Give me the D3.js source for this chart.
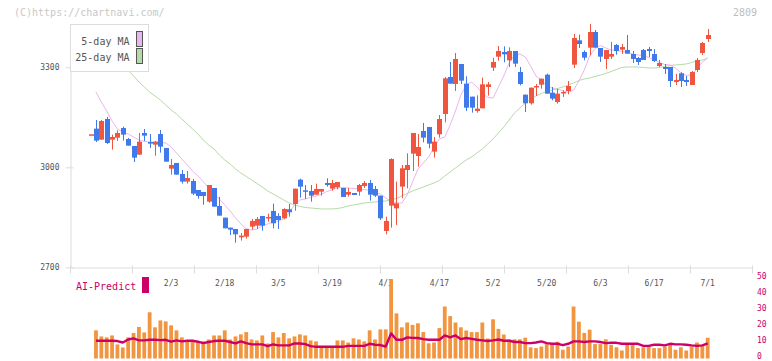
<!DOCTYPE html>
<html><head><meta charset="utf-8">
<script src="https://cdn.jsdelivr.net/npm/d3@7"></script>
<style>
body{margin:0;background:#fff}
svg{display:block}
text{font-family:"DejaVu Sans Mono","Liberation Mono",monospace}
</style>
</head><body>
<svg id="chart" width="772" height="361"></svg>
<script>
const dates = ["1/10","1/14","1/15","1/16","1/17","1/20","1/21","1/22","1/23","1/24","1/27","1/28","1/29","1/30","1/31",
"2/3","2/4","2/5","2/6","2/7","2/10","2/12","2/13","2/14","2/17","2/18","2/19","2/20","2/21","2/25","2/26","2/27","2/28",
"3/3","3/4","3/5","3/6","3/7","3/10","3/11","3/12","3/13","3/14","3/17","3/18","3/19","3/21","3/24","3/25","3/26","3/27","3/28","3/31",
"4/1","4/2","4/3","4/4","4/7","4/8","4/9","4/10","4/11","4/14","4/15","4/16","4/17","4/18","4/21","4/22","4/23","4/24","4/25","4/28","4/30",
"5/1","5/2","5/7","5/8","5/9","5/12","5/13","5/14","5/15","5/16","5/19","5/20","5/21","5/22","5/23","5/26","5/27","5/28","5/29","5/30",
"6/2","6/3","6/4","6/5","6/6","6/9","6/10","6/11","6/12","6/13","6/16","6/17","6/18","6/19","6/20","6/23","6/24","6/25","6/26","6/27","6/30","7/1"];

const openP = [3099,3116,3083,3145,3083,3089,3118,3085,3064,3038,3103,3076,3068,3100,3058,2996,3013,2980,2957,2959,2932,2926,2897,2938,2884,2849,2819,2815,2790,2792,2822,2825,2854,2851,2869,2854,2847,2874,2890,2963,2931,2929,2918,2927,2953,2936,2940,2938,2918,2923,2927,2944,2953,2935,2915,2809,2885,2877,2942,2992,3041,3034,3109,3121,3047,3099,3160,3271,3250,3310,3251,3212,3169,3177,3241,3299,3332,3346,3321,3349,3286,3218,3192,3240,3248,3278,3224,3196,3222,3229,3308,3381,3346,3359,3406,3358,3325,3332,3367,3353,3352,3340,3328,3352,3355,3340,3304,3301,3301,3256,3282,3262,3247,3292,3343,3385];
const highP = [3099,3142,3142,3151,3098,3111,3122,3088,3064,3103,3115,3100,3079,3112,3058,3025,3013,2992,2989,2965,2932,2926,2947,2938,2911,2849,2819,2815,2803,2815,2845,2851,2854,2861,2891,2862,2877,2890,2936,2966,2947,2947,2951,2935,2967,2962,2956,2938,2938,2923,2950,2959,2962,2944,2915,2852,3027,2957,3007,3042,3103,3100,3133,3121,3091,3157,3271,3316,3343,3310,3273,3212,3216,3269,3256,3329,3364,3363,3360,3349,3301,3218,3239,3250,3266,3281,3241,3236,3231,3259,3400,3398,3351,3430,3412,3358,3352,3376,3370,3370,3397,3349,3331,3355,3361,3355,3322,3310,3301,3280,3285,3274,3289,3328,3376,3415];
const lowP = [3099,3076,3083,3070,3053,3079,3080,3065,3016,3038,3079,3058,3035,3044,3017,2978,2978,2951,2951,2917,2906,2888,2894,2882,2855,2817,2797,2774,2780,2786,2813,2815,2810,2837,2817,2815,2844,2852,2870,2909,2905,2897,2918,2915,2942,2930,2934,2911,2912,2917,2915,2938,2900,2911,2842,2799,2819,2827,2907,2937,2989,3002,3075,3057,3029,3089,3135,3251,3229,3250,3169,3164,3164,3177,3215,3289,3320,3315,3301,3301,3246,3166,3188,3214,3236,3221,3201,3191,3211,3219,3298,3358,3321,3336,3359,3316,3295,3325,3338,3340,3341,3313,3307,3322,3331,3316,3300,3280,3241,3247,3241,3244,3247,3286,3337,3376];
const closeP = [3099,3080,3139,3073,3091,3103,3098,3065,3029,3077,3095,3071,3077,3062,3017,3007,2978,2957,2968,2921,2914,2914,2947,2882,2855,2817,2813,2799,2795,2815,2839,2845,2825,2851,2832,2842,2875,2865,2936,2942,2928,2915,2935,2935,2947,2953,2956,2911,2926,2917,2947,2953,2918,2915,2847,2839,3025,2892,2997,3007,3103,3061,3089,3071,3077,3145,3267,3251,3325,3260,3179,3179,3176,3249,3249,3316,3349,3339,3349,3311,3250,3192,3239,3244,3266,3221,3206,3221,3226,3244,3388,3370,3329,3406,3359,3332,3352,3340,3349,3361,3341,3325,3316,3322,3349,3319,3313,3295,3259,3262,3259,3256,3286,3322,3373,3397];

const ma5 = [null,3226,3196,3169,3139,3115,3106,3100,3091,3082,3077.5,3076,3075,3074.5,3073,3061,3043,3025,3007,2989,2974,2957,2938,2920,2905,2887,2869,2848,2830,2816,2812,2815,2824,2830,2836,2839,2845,2863,2887,2902,2905,2909.5,2914,2918.5,2927.5,2932,2938,2939.5,2938,2936.5,2935,2933.5,2930.5,2923,2920,2908,2899,2893,2893,2917,2956,2995,3013,3031,3061,3085,3091,3127,3169,3217,3247,3256,3241,3223,3209.5,3208,3241,3274,3313,3337,3340,3331,3304,3274,3262,3244,3238,3233.5,3230.5,3224.5,3232,3259,3292,3334,3356,3365.5,3358,3352,3350.5,3348,3344.5,3340,3337,3335.5,3329.5,3323.5,3314.5,3308.5,3307,3298,3283,3276,3277,3295,3316,3328];
const ma25 = [null,3382,3367,3352,3337,3322,3307,3292,3274,3256,3241,3226,3214,3202,3187,3172,3160,3145,3130,3115,3100,3082,3067,3055,3037,3022,3010,2995,2983,2972.5,2962,2951.5,2941,2929,2920,2911,2902,2893,2887,2882.5,2879.5,2878,2876.5,2875,2875,2875,2876.5,2879.5,2884,2887,2890,2893,2894.5,2896,2897.5,2899,2902,2906.5,2914,2921.5,2929,2935,2941,2947,2953,2960.5,2974,2986,2998,3010,3022,3031,3043,3055,3070,3085,3103,3121,3142,3163,3178,3193,3203.5,3214,3221.5,3227.5,3232,3236.5,3241,3247,3253,3260.5,3265,3268,3272.5,3277,3281.5,3287.5,3293.5,3299.5,3301,3301,3301,3299.5,3298,3298,3299.5,3302.5,3305.5,3307,3308.5,3310,3314.5,3319,3322,3328];

const volume = [null,17.6,13.8,13.2,14.4,8.8,6.9,13.2,15.9,19.7,16.3,28.9,19.5,23.8,23.2,20.7,17.6,13.2,11.3,11.3,10.9,10.7,11.9,14.4,14.4,17.6,11.9,13.8,15.1,16.5,11.9,11.3,14.4,9.4,16.5,13.2,15.9,12.6,13.8,15.1,14.4,11.3,10.7,7.7,7.7,7.7,11.3,11.3,10.0,12.6,11.9,10.7,17.6,11.9,18.2,18.2,49.6,28.2,
19.5,22.5,21,22,16.5,9.5,10,19,32.5,26.5,22.5,19.5,17.5,16.5,16.5,22.5,12.5,24.5,18.5,15,12,12,12,13,7,6.5,7.5,9,9,10.5,5.5,7.5,32.5,23,16,18,9,9,12,8.5,7,5,8.5,8.5,6.5,7,7.5,6.5,6.5,7.5,9.5,5.5,7,5,7.5,10,8.5,13];
const aiPredict = [null,11.1,11.1,11.1,11.1,10.9,10.0,11.9,12.6,11.3,11.3,11.7,11.7,11.5,11.7,10.5,11.3,10.7,11.1,11.1,10.5,9.6,10.3,10.9,11.1,11.1,10.3,9.4,10.7,9.6,8.8,8.8,8.8,7.7,8.8,8.2,8.2,8.2,9.4,9.4,9.0,7.7,7.3,7.3,7.3,7.3,7.3,7.3,7.9,7.9,7.9,7.9,9.2,8.6,8.4,7.5,15.7,11.7,
11.7,13.2,12.9,12.8,12.1,11.7,11.7,11.7,14.4,13.2,14.4,12.1,12.8,12.3,11.7,11.3,10.9,11.3,11.9,11.1,11.1,10.3,10.3,9.6,9.6,10.0,10.7,9.6,9.2,9.2,8.4,9.2,10.7,10.7,10.3,10.7,10.7,10.3,9.6,9.8,9.8,9.2,9.2,9.2,9.2,7.9,7.9,8.6,8.6,8.2,9.2,8.8,8.8,8.6,8.2,7.9,8.2,9.4];

const dateTickLabels = ["2/3","2/18","3/5","3/19","4/3","4/17","5/2","5/20","6/3","6/17","7/1"];
const priceTicks = [2700, 3000, 3300];
const volumeTicks = [0, 10, 20, 30, 40, 50];
const legendLabels = ["5-day MA", "25-day MA"];
const codeLabel = "2809";
const creditLabel = "(C)https://chartnavi.com/";
const aiLabel = "AI-Predict";

const UP = "#f0553f", DOWN = "#4079ea", GRID = "#dcdcdc", CRIMSON = "#cc0066";
const MA5C = "#eab6ee", MA25C = "#b5dba6", VOLC = "#f29540";

const svg = d3.select("#chart");
const n = dates.length;
const idx = d3.range(n);

const x = d3.scaleLinear().domain([0, n - 1]).range([90.6, 707.7]);
const y = d3.scaleLinear().domain([2700, 3430]).range([267.3, 24]);
const frame = d3.scaleLinear().domain([0, 11]).range([70, 752]);
const v = d3.scaleLinear().domain([0, 50]).range([358.5, 278.5]);

// credits
svg.append("text").attr("x", 14).attr("y", 16).attr("font-size", 10).attr("fill", "#c8c8c8").text(creditLabel);
svg.append("text").attr("x", 757).attr("y", 16).attr("font-size", 10).attr("fill", "#bdbdbd").attr("text-anchor", "end").text(codeLabel);

// y axis
const ya = svg.append("g").attr("transform", "translate(70.5,0)")
  .call(d3.axisLeft(y).tickValues(priceTicks).tickSizeInner(5).tickSizeOuter(0).tickPadding(6).tickFormat(d3.format("d")));
ya.select(".domain").attr("stroke", GRID);
ya.selectAll(".tick line").attr("stroke", GRID).attr("x1", 3);
ya.selectAll(".tick text").attr("font-size", 8).attr("fill", "#555").attr("font-family", '"DejaVu Sans Mono",monospace');

// x axis frame
const xa = svg.append("g").attr("transform", "translate(0,267.5)")
  .call(d3.axisBottom(frame).tickValues(d3.range(0, 12)).tickSizeInner(6).tickSizeOuter(0).tickFormat(""));
xa.select(".domain").attr("stroke", GRID);
xa.selectAll(".tick line").attr("stroke", GRID).attr("y1", -2);

// date labels
svg.append("g").selectAll("text").data(dateTickLabels).join("text")
  .attr("x", d => x(dates.indexOf(d))).attr("y", 285.5)
  .attr("text-anchor", "middle").attr("font-size", 8).attr("fill", "#555").text(d => d);

// moving averages
const maLine = arr => d3.line().defined(i => arr[i] != null).x(i => x(i)).y(i => y(arr[i]))(idx);
svg.append("path").attr("d", maLine(ma25)).attr("fill", "none").attr("stroke", MA25C).attr("stroke-width", 1);
svg.append("path").attr("d", maLine(ma5)).attr("fill", "none").attr("stroke", MA5C).attr("stroke-width", 1);

// candles
const cg = svg.append("g").selectAll("g").data(idx).join("g");
const col = i => closeP[i] >= openP[i] ? UP : DOWN;
cg.append("line")
  .attr("x1", i => Math.round(x(i)) + 0.5).attr("x2", i => Math.round(x(i)) + 0.5)
  .attr("y1", i => y(highP[i])).attr("y2", i => y(lowP[i]))
  .attr("stroke", col).attr("stroke-width", 1);
cg.append("rect")
  .attr("x", i => Math.round(x(i)) - 2).attr("width", 5)
  .attr("y", i => y(Math.max(openP[i], closeP[i])))
  .attr("height", i => Math.max(1.5, Math.abs(y(openP[i]) - y(closeP[i]))))
  .attr("fill", col);

// legend
const lg = svg.append("g");
lg.append("rect").attr("x", 70.5).attr("y", 24.5).attr("width", 78).attr("height", 47)
  .attr("fill", "#fff").attr("stroke", GRID);
const lcols = [MA5C, MA25C];
legendLabels.forEach((t, k) => {
  lg.append("text").attr("x", 129.5).attr("y", 45 + k * 16).attr("text-anchor", "end")
    .attr("font-size", 10).attr("fill", "#555").text(t);
  lg.append("rect").attr("x", 136.5).attr("y", 31.5 + k * 17).attr("width", 6).attr("height", 15)
    .attr("fill", lcols[k]).attr("stroke", "#555").attr("stroke-width", 1);
});

// AI-Predict label
svg.append("text").attr("x", 76).attr("y", 289.5).attr("font-size", 10).attr("fill", CRIMSON).text(aiLabel);
svg.append("rect").attr("x", 142).attr("y", 277).attr("width", 7).attr("height", 16).attr("fill", CRIMSON);

// volume bars
svg.append("g").selectAll("rect").data(idx.filter(i => volume[i] != null)).join("rect")
  .attr("x", i => x(i) - 1.9).attr("width", 3.8)
  .attr("y", i => v(volume[i])).attr("height", i => v(0) - v(volume[i]))
  .attr("fill", VOLC);

// AI predict line
svg.append("path")
  .attr("d", d3.line().defined(i => aiPredict[i] != null).x(i => x(i)).y(i => v(aiPredict[i]))(idx))
  .attr("fill", "none").attr("stroke", CRIMSON).attr("stroke-width", 2.4).attr("stroke-linejoin", "round");

// right volume axis
const va = svg.append("g").attr("transform", "translate(754,0)")
  .call(d3.axisRight(v).tickValues(volumeTicks).tickSize(0).tickPadding(3));
va.select(".domain").remove();
va.selectAll(".tick text").attr("font-size", 8).attr("fill", CRIMSON).attr("dy", "0.05em")
  .attr("font-family", '"DejaVu Sans Mono",monospace');
</script>
</body></html>
